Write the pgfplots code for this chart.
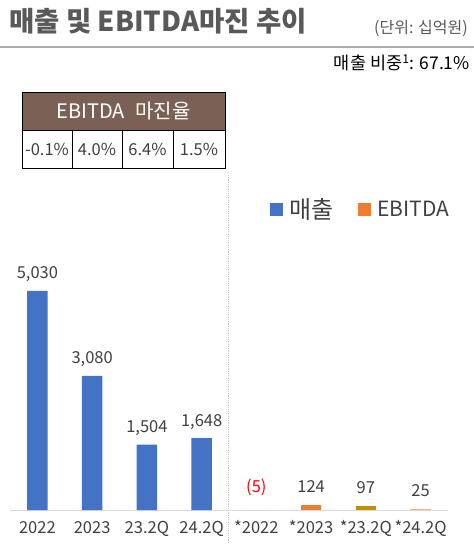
\documentclass[border=0pt]{standalone}
\usepackage{pgfplots}
\pgfplotsset{compat=1.18}
\usepackage{fontspec}
\setmainfont{Noto Sans CJK KR}
\definecolor{blu}{HTML}{4472C4}
\definecolor{org}{HTML}{ED7D31}
\definecolor{gold}{HTML}{BF9000}
\definecolor{lorg}{HTML}{F4B183}
\definecolor{beige}{HTML}{E9D3C0}
\definecolor{txt}{HTML}{404040}
\definecolor{ttl}{HTML}{595959}
\definecolor{brn}{HTML}{7A6055}
\newcommand{\fs}[1]{\fontsize{#1}{#1}\selectfont}
\begin{document}
\begin{tikzpicture}[x=1pt,y=1pt]
\useasboundingbox (0,0) rectangle (474,549);
% title
\node[anchor=west,inner sep=0,text=ttl,font=\fs{27.5}\bfseries] at (9,549-21) {매출 및 EBITDA마진 추이};
\node[anchor=east,inner sep=0,text=ttl,font=\fs{16}] at (468,549-28) {(단위: 십억원)};
\draw[gray!65,line width=1.3pt] (0,549-47) -- (474,549-47);
\node[anchor=east,inner sep=0,text=black,font=\fs{17.5}] at (470,549-63) {매출 비중\textsuperscript{1}: 67.1\%};
% table
\fill[brn] (22,549-92) rectangle (225,549-130);
\node[text=white,font=\fs{20}] at (123.5,549-111) {EBITDA\hspace{0.3em} 마진율};
\draw[black,line width=0.8pt] (22,549-92) rectangle (225,549-168);
\draw[black,line width=0.8pt] (22,549-130) -- (225,549-130);
\foreach \xx in {72,122,173} {\draw[black,line width=0.8pt] (\xx,549-130) -- (\xx,549-168);}
\node[text=txt,font=\fs{16.5}] at (47,549-149) {-0.1\%};
\node[text=txt,font=\fs{16.5}] at (97,549-149) {4.0\%};
\node[text=txt,font=\fs{16.5}] at (147.5,549-149) {6.4\%};
\node[text=txt,font=\fs{16.5}] at (199,549-149) {1.5\%};
% legend
\fill[blu] (270,549-216) rectangle (283,549-203);
\node[anchor=west,inner sep=0,text=txt,font=\fs{24}] at (289,549-209) {매출};
\fill[org] (358,549-216) rectangle (371,549-203);
\node[anchor=west,inner sep=0,text=txt,font=\fs{21}] at (377,549-209) {EBITDA};
% dotted separator
\draw[gray!45,densely dotted,line width=0.8pt] (228,549-175) -- (228,549-543);
\begin{axis}[
  at={(10pt,39pt)}, anchor=south west,
  scale only axis, width=438pt, height=300pt,
  xmin=-0.5, xmax=7.5, ymin=0, ymax=6890,
  clip=false,
  hide y axis,
  axis x line*=bottom,
  x axis line style={draw=gray!30,line width=1pt,-},
  xtick={0,...,7},
  xticklabels={2022,2023,23.2Q,24.2Q,*2022,*2023,*23.2Q,*24.2Q},
  major tick length=0pt,
  xticklabel style={font=\fs{16.5},text=txt,anchor=base,yshift=-23pt},
  ybar, bar width=20.5pt, bar shift=0pt,
  /pgf/number format/assume math mode=true,
  /pgf/number format/1000 sep={,},
  nodes near coords,
  every node near coord/.append style={font=\fs{16.5},text=txt,anchor=base,yshift=12pt},
]
\addplot[fill=blu,draw=none] coordinates {(0,5030) (1,3080) (2,1504) (3,1648)};
\addplot[fill=beige,draw=none,nodes near coords={(5)},
  every node near coord/.append style={text=red,anchor=base,yshift=6pt}] coordinates {(4,-5)};
\addplot[fill=org,draw=none] coordinates {(5,124)};
\addplot[fill=gold,draw=none] coordinates {(6,97)};
\addplot[fill=lorg,draw=none] coordinates {(7,25)};
\end{axis}
\end{tikzpicture}
\end{document}
